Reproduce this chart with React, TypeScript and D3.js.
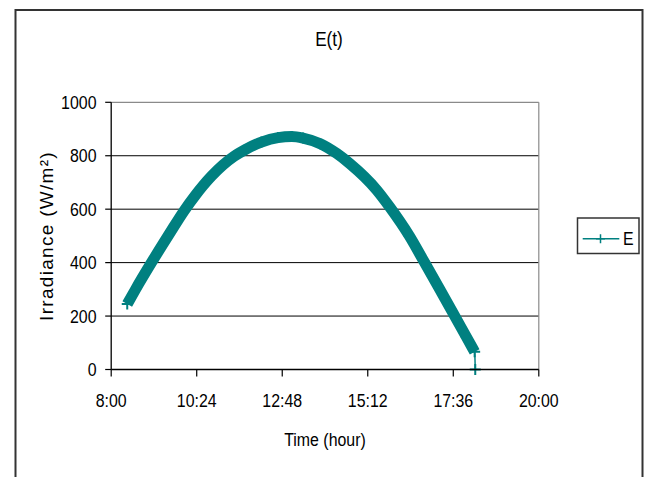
import React from 'react';
import * as d3 from 'd3';

// Irradiance samples over the day (clock time, W/m²)
const times = [
  '8:27', '8:41', '9:10', '9:38', '10:03', '10:21', '10:49', '11:27', '11:45',
  '12:13', '12:41', '13:04', '13:23', '13:52', '14:20', '14:42', '15:27', '15:49',
  '16:22', '16:47', '17:12', '17:33', '17:58', '18:12', '18:13',
];
const irradiance = [
  245, 300, 408, 508, 595, 650, 724, 798, 822,
  851, 868, 872, 866, 845, 808, 770, 672, 608,
  500, 403, 305, 222, 122, 66, 0,
];
const xTickLabels = ['8:00', '10:24', '12:48', '15:12', '17:36', '20:00'];
const yTickValues = [0, 200, 400, 600, 800, 1000];
const seriesName = 'E';

const W = 650;
const H = 477;
const plot = { left: 111.2, right: 538.8, top: 102.3, bottom: 369.5 };
const TEAL = '#008080';
const FONT = '"Liberation Sans", Arial, Helvetica, sans-serif';
const SQUEEZE = 0.86;

const toMinutes = (s: string) => {
  const [h, m] = s.split(':').map(Number);
  return h * 60 + m;
};

function Label({ x, y, anchor = 'middle', size = 18.5, children }: {
  x: number; y: number; anchor?: string; size?: number; children: React.ReactNode;
}) {
  return (
    <text
      transform={`translate(${x},${y}) scale(${SQUEEZE},1)`}
      textAnchor={anchor}
      fontSize={size}
      fontFamily={FONT}
      fill="#000"
    >
      {children}
    </text>
  );
}

const plus = (cx: number, cy: number, r: number) =>
  `M${cx - r},${cy}H${cx + r}M${cx},${cy - r}V${cy + r}`;

export default function App() {
  const x = d3
    .scaleLinear()
    .domain([toMinutes(xTickLabels[0]), toMinutes(xTickLabels[xTickLabels.length - 1])])
    .range([plot.left, plot.right]);
  const y = d3.scaleLinear().domain([0, 1000]).range([plot.bottom, plot.top]);

  const pts: [number, number][] = times.map((t, i) => [x(toMinutes(t)), y(irradiance[i])]);
  const line = d3.line().curve(d3.curveMonotoneX);
  const bandPath = line(pts.slice(0, pts.length - 1)) || '';
  const thinPath = line(pts) || '';

  return (
    <svg
      width={W}
      height={H}
      viewBox={`0 0 ${W} ${H}`}
      style={{ position: 'absolute', left: 0, top: 0, background: '#fff' }}
    >
      <rect x={0} y={0} width={W} height={H} fill="#fff" />
      {/* chart frame */}
      <rect x={15.5} y={10} width={627} height={500} fill="none" stroke="#333" strokeWidth={2} />

      {/* title */}
      <Label x={329} y={45.5} size={20}>E(t)</Label>

      {/* gridlines */}
      {yTickValues
        .filter((v) => v > 0 && v < 1000)
        .map((v) => (
          <line key={v} x1={plot.left} x2={plot.right} y1={y(v)} y2={y(v)} stroke="#000" strokeWidth={1} />
        ))}
      {/* plot area border (top / right) */}
      <line x1={plot.left} x2={plot.right} y1={plot.top} y2={plot.top} stroke="#8a8a8a" strokeWidth={1.2} />
      <line x1={plot.right} x2={plot.right} y1={plot.top} y2={plot.bottom} stroke="#8a8a8a" strokeWidth={1.2} />

      {/* y axis */}
      <line x1={plot.left} x2={plot.left} y1={plot.top} y2={plot.bottom} stroke="#000" strokeWidth={1.3} />
      {yTickValues.map((v) => (
        <g key={v}>
          <line x1={plot.left - 6} x2={plot.left} y1={y(v)} y2={y(v)} stroke="#000" strokeWidth={1.2} />
          <Label x={96.5} y={y(v) + 6.5} anchor="end">{v}</Label>
        </g>
      ))}

      {/* series */}
      <path d={bandPath} fill="none" stroke={TEAL} strokeWidth={11} strokeLinejoin="round" />
      <path d={thinPath} fill="none" stroke={TEAL} strokeWidth={1.5} />
      {pts.map(([px, py], i) => (
        <path key={i} d={plus(px, py, 5.5)} stroke={TEAL} strokeWidth={2} fill="none" />
      ))}

      {/* x axis */}
      <line x1={plot.left} x2={plot.right} y1={plot.bottom} y2={plot.bottom} stroke="#000" strokeWidth={1.3} />
      {xTickLabels.map((t) => (
        <g key={t}>
          <line x1={x(toMinutes(t))} x2={x(toMinutes(t))} y1={plot.bottom} y2={plot.bottom + 7} stroke="#000" strokeWidth={1.2} />
          <Label x={x(toMinutes(t))} y={407}>{t}</Label>
        </g>
      ))}

      {/* axis titles */}
      <Label x={325} y={446}>Time (hour)</Label>
      <text
        transform="translate(52.7,236) rotate(-90)"
        textAnchor="middle"
        fontSize={19}
        fontFamily={FONT}
        letterSpacing={1.3}
        fill="#000"
      >
        Irradiance (W/m²)
      </text>

      {/* legend */}
      <rect x={577.5} y={218} width={61.5} height={35.5} fill="#fff" stroke="#333" strokeWidth={1.5} />
      <line x1={582.7} x2={619.3} y1={238.7} y2={238.7} stroke={TEAL} strokeWidth={1.5} />
      <path d={plus(600.5, 238.7, 4.5)} stroke={TEAL} strokeWidth={1.5} fill="none" />
      <Label x={623} y={244.5} anchor="start">{seriesName}</Label>
    </svg>
  );
}
